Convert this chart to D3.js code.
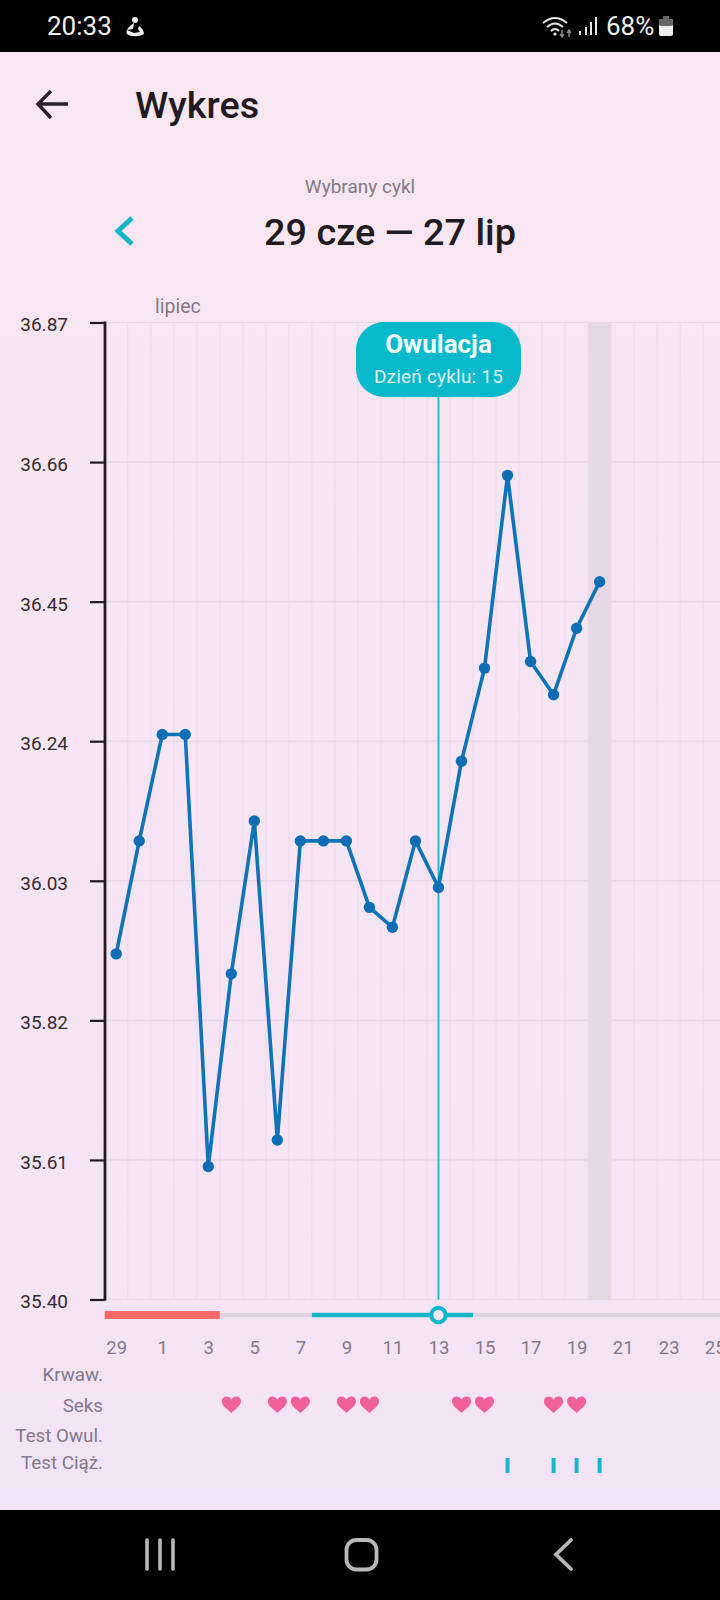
<!DOCTYPE html>
<html><head><meta charset="utf-8">
<script src="https://cdn.jsdelivr.net/npm/d3@7/dist/d3.min.js"></script>
<style>
html,body{margin:0;padding:0;width:720px;height:1600px;overflow:hidden;background:#000}
svg{display:block}
text{font-family:Roboto,sans-serif}
.domain{stroke:#231a21}
</style></head><body>
<svg id="c" width="720" height="1600"></svg>
<script>
const days=["29","30","1","2","3","4","5","6","7","8","9","10","11","12","13","14","15","16","17","18","19","20","21","22","23","24","25","26","27"];
const measuredDays=["29","30","1","2","3","4","5","6","7","8","9","10","11","12","13","14","15","16","17","18","19","20"];
const temperatures=[35.92,36.09,36.25,36.25,35.60,35.89,36.12,35.64,36.09,36.09,36.09,35.99,35.96,36.09,36.02,36.21,36.35,36.64,36.36,36.31,36.41,36.48];
const yTicks=[36.87,36.66,36.45,36.24,36.03,35.82,35.61,35.40];
const xTickLabels=["29","1","3","5","7","9","11","13","15","17","19","21","23","25"];
const periodDays=["29","30","1","2","3"];
const fertileDays=["8","9","10","11","12","13","14"];
const ovulationDay="13";
const todayDay="20";
const sexDays=["4","6","7","9","10","14","15","18","19"];
const pregnancyTestDays=["16","18","19","20"];
const rowLabels=["Krwaw.","Seks","Test Owul.","Test Ciąż."];
const rowBaselines=[1381,1412,1442,1469];

const svg=d3.select("#c");
const defs=svg.append("defs");
const g0=defs.append("linearGradient").attr("id","bg").attr("x1",0).attr("y1",0).attr("x2",0).attr("y2",1);
g0.append("stop").attr("offset",0).attr("stop-color","#f8e6f0");
g0.append("stop").attr("offset",1).attr("stop-color","#f3e3f6");
svg.append("rect").attr("width",720).attr("height",1600).attr("fill","#000");
svg.append("rect").attr("y",52).attr("width",720).attr("height",1458).attr("fill","url(#bg)");

const step=23.02, x0=116.2;
const x=d3.scalePoint().domain(days).range([x0,x0+step*(days.length-1)]);
const y=d3.scaleLinear().domain([35.40,36.87]).range([1299.5,322.5]);

// today band
svg.append("rect").attr("x",x(todayDay)-step/2).attr("y",y(36.87)).attr("width",step).attr("height",y(35.40)-y(36.87)).attr("fill","#e6d7e5");
// grid
svg.append("g").selectAll("line").data(days).join("line")
 .attr("x1",d=>x(d)+step/2).attr("x2",d=>x(d)+step/2).attr("y1",y(36.87)).attr("y2",y(35.40))
 .attr("stroke","#ecdcea").attr("stroke-width",1.2).attr("opacity",.85);
svg.append("g").selectAll("line").data(yTicks).join("line")
 .attr("x1",105).attr("x2",720).attr("y1",d=>y(d)).attr("y2",d=>y(d))
 .attr("stroke","#e8d8e6").attr("stroke-width",d=>(d===36.87||d===35.40)?1:1.6);

// y axis
const ay=svg.append("g").attr("transform","translate(105,0)")
 .call(d3.axisLeft(y).tickValues(yTicks).tickFormat(d3.format(".2f")).tickSize(15).tickPadding(22));
ay.select(".domain").attr("stroke","#231a21").attr("stroke-width",2.8).attr("d",`M0,${y(36.87)-1}V${y(35.40)+1}`);
ay.selectAll(".tick line").attr("stroke","#231a21").attr("stroke-width",2.2);
ay.selectAll(".tick text").attr("fill","#352b33").attr("font-size",19).attr("font-family","Roboto").attr("dy","0.44em");

// month label
svg.append("text").attr("x",155).attr("y",313).attr("font-size",19.5).attr("fill","#85788a").text("lipiec");

// ovulation marker
svg.append("line").attr("x1",x(ovulationDay)).attr("x2",x(ovulationDay)).attr("y1",397).attr("y2",y(35.40)).attr("stroke","#22b6c8").attr("stroke-width",1.9);
svg.append("rect").attr("x",356).attr("y",322).attr("width",165).attr("height",75).attr("rx",28).attr("fill","#07b9cb");
svg.append("text").attr("x",438.5).attr("y",353).attr("text-anchor","middle").attr("font-size",26).attr("font-weight",700).attr("fill","#f4fdfd").text("Owulacja");
svg.append("text").attr("x",438.5).attr("y",383).attr("text-anchor","middle").attr("font-size",19).attr("letter-spacing",".2").attr("fill","#d9f5f6").text("Dzień cyklu: 15");

// temperature line
const pts=measuredDays.map((d,i)=>({d,t:temperatures[i]}));
svg.append("path").datum(pts).attr("fill","none").attr("stroke","#0f73b6").attr("stroke-width",3.6).attr("stroke-linejoin","round")
 .attr("d",d3.line().x(p=>x(p.d)).y(p=>y(p.t)));
svg.append("g").selectAll("circle").data(pts).join("circle").attr("cx",p=>x(p.d)).attr("cy",p=>y(p.t)).attr("r",5.7).attr("fill","#0f6db4");

// phase bar
const yBar=1315;
svg.append("rect").attr("x",105).attr("y",yBar-2).attr("width",615).attr("height",4).attr("fill","#e0d1e0");
svg.append("rect").attr("x",x(periodDays[0])-step/2).attr("y",yBar-4).attr("width",x(periodDays[periodDays.length-1])-x(periodDays[0])+step).attr("height",8).attr("fill","#fb6868");
svg.append("rect").attr("x",x(fertileDays[0])-step/2).attr("y",yBar-2.2).attr("width",x(fertileDays[fertileDays.length-1])-x(fertileDays[0])+step).attr("height",4.4).attr("fill","#16b7c8");
svg.append("circle").attr("cx",x(ovulationDay)).attr("cy",yBar).attr("r",7.2).attr("fill","#f6e9f7").attr("stroke","#0db5c8").attr("stroke-width",4);

// x axis labels
const ax=svg.append("g").attr("transform","translate(0,1354)")
 .call(d3.axisBottom(x).tickValues(xTickLabels).tickSize(0).tickPadding(0));
ax.select(".domain").remove();
ax.selectAll(".tick text").attr("y",0).attr("dy",0).attr("fill","#85788a").attr("font-size",18.5).attr("font-family","Roboto");

// row labels
svg.append("g").selectAll("text").data(rowLabels).join("text")
 .attr("x",103).attr("y",(d,i)=>rowBaselines[i]).attr("text-anchor","end").attr("font-size",18.8).attr("fill","#85788a").text(d=>d);

// hearts
const heart="M0 8.5C-1 7-3.5 5.5-6 3.2C-8.3 1-9.6-1-9.6-3.4C-9.6-6.2-7.5-8-5-8C-3-8-1.2-7-0-5C1.2-7 3-8 5-8C7.5-8 9.6-6.2 9.6-3.4C9.6-1 8.3 1 6 3.2C3.5 5.5 1 7 0 8.5Z";
svg.append("g").selectAll("path").data(sexDays).join("path")
 .attr("d",heart).attr("transform",d=>`translate(${x(d)},1404.5)`).attr("fill","#f0609a");
// pregnancy tests
svg.append("g").selectAll("rect").data(pregnancyTestDays).join("rect")
 .attr("x",d=>x(d)-2).attr("width",4).attr("y",1458).attr("height",15).attr("fill","#15b7c8");

// header
svg.append("path").attr("d","M68 104H39M51 91L38 104L51 118").attr("fill","none").attr("stroke","#2a2128").attr("stroke-width",3.4);
svg.append("text").attr("x",135).attr("y",118).attr("font-size",37.8).attr("font-weight",500).attr("fill","#231a21").text("Wykres");
svg.append("text").attr("x",360).attr("y",192.5).attr("text-anchor","middle").attr("font-size",19).attr("fill","#85788a").text("Wybrany cykl");
svg.append("text").attr("x",390).attr("y",244.5).attr("text-anchor","middle").attr("font-size",37.8).attr("font-weight",500).attr("fill","#231a21").text("29 cze — 27 lip");
svg.append("path").attr("d","M132 218L118 231L132 244").attr("fill","none").attr("stroke","#12b6c8").attr("stroke-width",5);

// status bar
svg.append("text").attr("x",47).attr("y",35).attr("font-size",26).attr("fill","#f0f0f0").text("20:33");
svg.append("circle").attr("cx",135).attr("cy",20).attr("r",3).attr("fill","#eee");
svg.append("path").attr("d","M134 23C129 26 125 31 127 34C131 37 139 37 144 34C144 31 142 28 139 26L138 29L140 32L134 33L127 30L133 29Z").attr("fill","#eee");
svg.append("text").attr("x",606).attr("y",35).attr("font-size",26).attr("fill","#f0f0f0").text("68%");
const wifi=svg.append("g").attr("fill","none").attr("stroke","#e6e6e6").attr("stroke-width",2);
wifi.append("path").attr("d","M543 23Q555 13 567 23");
wifi.append("path").attr("d","M547 27Q555 20 563 27");
wifi.append("path").attr("d","M551 31Q555 27 559 31");
svg.append("circle").attr("cx",555).attr("cy",34).attr("r",1.6).attr("fill","#e6e6e6");
svg.append("path").attr("d","M562 30V37M560 34L562 37L564 34").attr("fill","none").attr("stroke","#888").attr("stroke-width",1.5);
svg.append("path").attr("d","M569 37V30M567 33L569 30L571 33").attr("fill","none").attr("stroke","#888").attr("stroke-width",1.5);
[[580,4],[586,8],[591,13],[596,18]].forEach(b=>svg.append("rect").attr("x",b[0]-1).attr("y",35-b[1]).attr("width",2).attr("height",b[1]).attr("fill","#e6e6e6"));
svg.append("rect").attr("x",659).attr("y",19).attr("width",14).attr("height",17).attr("rx",2).attr("fill","#eee");
svg.append("rect").attr("x",659).attr("y",19).attr("width",14).attr("height",7).attr("rx",2).attr("fill","#666");
svg.append("rect").attr("x",663).attr("y",16).attr("width",6).attr("height",3).attr("fill","#666");

// nav bar
[147,160,173].forEach(a=>svg.append("line").attr("x1",a).attr("x2",a).attr("y1",1540).attr("y2",1569).attr("stroke","#b8b8b8").attr("stroke-width",3.6).attr("stroke-linecap","round"));
svg.append("rect").attr("x",346.5).attr("y",1540).attr("width",30).attr("height",29.5).attr("rx",10).attr("fill","none").attr("stroke","#b8b8b8").attr("stroke-width",3.8);
svg.append("path").attr("d","M571 1540L556 1554.5L571 1569").attr("fill","none").attr("stroke","#b8b8b8").attr("stroke-width",3.8).attr("stroke-linecap","round");
</script>
</body></html>
